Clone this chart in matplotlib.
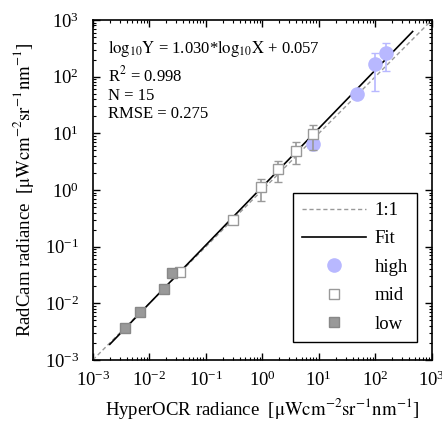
import matplotlib
matplotlib.use("Agg")
import matplotlib.pyplot as plt
import numpy as np
from matplotlib.ticker import LogLocator, NullFormatter

plt.rcParams['font.family'] = ['Liberation Serif', 'DejaVu Serif']
plt.rcParams['mathtext.fontset'] = 'stix'

# data
high_x = [8.0, 48.0, 100.0, 155.0]
high_y = [6.6, 49.0, 165.0, 260.0]
high_lo = [6.6, 49.0, 56.0, 126.0]
high_hi = [6.6, 49.0, 265.0, 390.0]

mid_x = [0.035, 0.30, 0.94, 1.9, 3.9, 8.0]
mid_y = [0.036, 0.30, 1.15, 2.3, 4.9, 9.8]
mid_lo = [0.036, 0.30, 0.65, 1.4, 2.85, 5.1]
mid_hi = [0.036, 0.30, 1.56, 3.25, 6.95, 14.0]

low_x = [0.0037, 0.0069, 0.018, 0.025]
low_y = [0.0037, 0.0071, 0.018, 0.034]

slope, intercept = 1.030, 0.057
fit_range = [10**-2.7, 10**2.66]
lims = [1e-3, 1e3]

stats_lines = [r'$\mathrm{log_{10}Y}$ = 1.030*$\mathrm{log_{10}X}$ + 0.057',
               r'R$^2$ = 0.998', 'N = 15', 'RMSE = 0.275']

fig = plt.figure(figsize=(4.42, 4.32), dpi=100)
ax = fig.add_axes([0.210, 0.1667, 0.767, 0.787])

ax.set_xscale('log')
ax.set_yscale('log')

ax.plot(lims, lims, color='#999999', linestyle=(0, (3, 2)), lw=1.0, label='1:1', zorder=2)
fx = np.array(fit_range)
ax.plot(fx, 10**(slope*np.log10(fx) + intercept), color='black', lw=1.2, label='Fit', zorder=3)

def yerr(y, lo, hi):
    y = np.array(y); return [y - np.array(lo), np.array(hi) - y]

ax.errorbar(high_x, high_y, yerr=yerr(high_y, high_lo, high_hi), fmt='none',
            ecolor='#b8b8ff', elinewidth=1.2, capsize=3, zorder=4)
ax.plot(high_x, high_y, 'o', ms=9.5, mfc='#b8b8ff', mec='#b8b8ff', ls='none', label='high', zorder=5)
ax.errorbar(mid_x, mid_y, yerr=yerr(mid_y, mid_lo, mid_hi), fmt='none',
            ecolor='#999999', elinewidth=1.2, capsize=3, zorder=6)
ax.plot(mid_x, mid_y, 's', ms=7.5, mfc='white', mec='#999999', mew=1.0, ls='none', label='mid', zorder=7)
ax.plot(low_x, low_y, 's', ms=7.5, mfc='#999999', mec='#888888', mew=1.0, ls='none', label='low', zorder=8)

ax.set_xlim(lims)
ax.set_ylim(lims)
ax.xaxis.set_major_locator(LogLocator(base=10, numticks=10))
ax.yaxis.set_major_locator(LogLocator(base=10, numticks=10))
ax.xaxis.set_minor_locator(LogLocator(base=10, subs=np.arange(2, 10), numticks=20))
ax.yaxis.set_minor_locator(LogLocator(base=10, subs=np.arange(2, 10), numticks=20))
ax.xaxis.set_minor_formatter(NullFormatter())
ax.yaxis.set_minor_formatter(NullFormatter())
ax.tick_params(which='both', direction='in', top=True, right=True, labelsize=13.5)
ax.tick_params(which='major', length=5, width=1)
ax.tick_params(which='minor', length=2.5, width=0.8)
ax.tick_params(axis='x', pad=8)
ax.tick_params(axis='y', pad=10)
for s in ax.spines.values():
    s.set_linewidth(1.2)

ax.set_xlabel(r'HyperOCR radiance  [$\mathrm{\mu Wcm^{-2}sr^{-1}nm^{-1}}$]', fontsize=13.5, labelpad=4)
ax.set_ylabel(r'RadCam radiance  [$\mathrm{\mu Wcm^{-2}sr^{-1}nm^{-1}}$]', fontsize=13.5, labelpad=6)

ys = [0.903, 0.818, 0.765, 0.712]
for s_, yy in zip(stats_lines, ys):
    ax.text(0.045, yy, s_, transform=ax.transAxes, fontsize=12, va='baseline', ha='left')

leg = ax.legend(loc='lower right', bbox_to_anchor=(0.956, 0.053), fontsize=13.5, frameon=True,
                fancybox=False, edgecolor='black', framealpha=1, handlelength=3.4,
                handletextpad=0.45, borderpad=0.5, labelspacing=0.6, borderaxespad=0)
leg.get_frame().set_linewidth(1.0)

fig.savefig('out.png', dpi=100)
